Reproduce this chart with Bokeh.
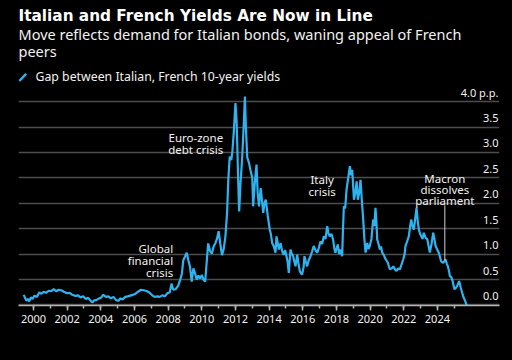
from bokeh.plotting import figure
from bokeh.models import Label, FixedTicker, Range1d, Grid, ColumnDataSource
from bokeh.core.properties import value
from bokeh.embed import file_html
from bokeh.resources import INLINE

# ---------------- data (decimal years, percentage points) ----------------
dates = [1999.42, 1999.50, 1999.58, 1999.67, 1999.75, 1999.85, 1999.95, 2000.05, 2000.2, 2000.35,
         2000.45, 2000.6, 2000.75, 2000.9, 2001.05, 2001.2, 2001.35, 2001.5, 2001.65, 2001.8,
         2002.0, 2002.15, 2002.3, 2002.5, 2002.65, 2002.8, 2002.95, 2003.1, 2003.25, 2003.4,
         2003.5, 2003.6, 2003.75, 2003.9, 2004.0, 2004.15, 2004.3, 2004.45, 2004.6, 2004.75,
         2004.9, 2005.05, 2005.15, 2005.3, 2005.45, 2005.6, 2005.8, 2006.0, 2006.2, 2006.4,
         2006.55, 2006.75, 2006.9, 2007.05, 2007.2, 2007.35, 2007.5, 2007.65, 2007.8, 2007.95,
         2008.1, 2008.2, 2008.3, 2008.45, 2008.6, 2008.72, 2008.82, 2008.9, 2009.0, 2009.1,
         2009.2, 2009.3, 2009.4, 2009.5, 2009.6, 2009.7, 2009.8, 2009.9, 2010.0, 2010.1,
         2010.2, 2010.28, 2010.38, 2010.5, 2010.6, 2010.7, 2010.8, 2010.9, 2011.0, 2011.1,
         2011.2, 2011.3, 2011.4, 2011.5, 2011.58, 2011.66, 2011.75, 2011.82, 2011.9, 2012.0,
         2012.07, 2012.15, 2012.22, 2012.3, 2012.4, 2012.5, 2012.56, 2012.62, 2012.7, 2012.8,
         2012.9, 2013.0, 2013.05, 2013.15, 2013.25, 2013.32, 2013.4, 2013.5, 2013.58, 2013.65,
         2013.72, 2013.8, 2013.92, 2014.04, 2014.1, 2014.18, 2014.28, 2014.38, 2014.44, 2014.52,
         2014.58, 2014.68, 2014.78, 2014.87, 2014.95, 2015.03, 2015.1, 2015.17, 2015.27, 2015.35,
         2015.43, 2015.5, 2015.57, 2015.67, 2015.75, 2015.82, 2015.9, 2015.96, 2016.05, 2016.1,
         2016.18, 2016.26, 2016.35, 2016.46, 2016.55, 2016.65, 2016.75, 2016.86, 2016.95, 2017.05,
         2017.15, 2017.25, 2017.35, 2017.45, 2017.52, 2017.6, 2017.7, 2017.8, 2017.88, 2017.94,
         2018.0, 2018.08, 2018.16, 2018.24, 2018.34, 2018.38, 2018.44, 2018.52, 2018.6, 2018.7,
         2018.8, 2018.87, 2018.94, 2019.0, 2019.04, 2019.12, 2019.2, 2019.27, 2019.35, 2019.43,
         2019.5, 2019.59, 2019.66, 2019.73, 2019.83, 2019.9, 2019.98, 2020.08, 2020.18, 2020.25,
         2020.32, 2020.38, 2020.42, 2020.5, 2020.58, 2020.65, 2020.72, 2020.82, 2020.92, 2021.0,
         2021.06, 2021.12, 2021.18, 2021.28, 2021.38, 2021.48, 2021.57, 2021.67, 2021.77, 2021.87,
         2021.97, 2022.05, 2022.1, 2022.2, 2022.3, 2022.38, 2022.44, 2022.52, 2022.6, 2022.68,
         2022.76, 2022.83, 2022.9, 2022.97, 2023.04, 2023.12, 2023.19, 2023.3, 2023.4, 2023.48,
         2023.55, 2023.65, 2023.75, 2023.82, 2023.89, 2024.0, 2024.08, 2024.15, 2024.22, 2024.34,
         2024.42, 2024.48, 2024.55, 2024.62, 2024.68, 2024.74, 2024.82, 2024.88, 2024.95, 2025.01,
         2025.08, 2025.17, 2025.23, 2025.29, 2025.38, 2025.47, 2025.55, 2025.61, 2025.7, 2025.77]

gap = [0.20, 0.14, 0.08, 0.12, 0.07, 0.15, 0.12, 0.18, 0.16, 0.25,
       0.22, 0.26, 0.24, 0.28, 0.27, 0.31, 0.27, 0.30, 0.29, 0.26,
       0.23, 0.24, 0.20, 0.18, 0.19, 0.15, 0.17, 0.12, 0.14, 0.08,
       0.05, 0.09, 0.10, 0.13, 0.14, 0.20, 0.16, 0.17, 0.13, 0.16,
       0.10, 0.08, 0.13, 0.11, 0.16, 0.17, 0.19, 0.21, 0.26, 0.30,
       0.29, 0.27, 0.24, 0.19, 0.16, 0.17, 0.16, 0.19, 0.17, 0.23,
       0.25, 0.42, 0.30, 0.31, 0.38, 0.50, 0.62, 0.88, 0.95, 1.03,
       0.88, 0.75, 0.46, 0.72, 0.62, 0.50, 0.58, 0.52, 0.59, 0.50,
       0.46, 0.80, 1.21, 1.05, 1.01, 1.15, 1.21, 1.30, 1.45, 1.20,
       0.98, 1.10, 1.34, 1.80, 2.50, 2.92, 2.85, 3.03, 3.40, 3.97,
       3.60, 2.60, 1.84, 2.40, 2.90, 3.60, 4.10, 3.50, 2.90, 2.80,
       2.64, 2.50, 1.94, 2.40, 2.76, 2.20, 1.94, 2.30, 2.05, 1.81,
       2.00, 2.07, 1.75, 1.48, 1.40, 1.22, 1.15, 1.03, 1.35, 1.20,
       1.09, 1.22, 1.05, 0.99, 1.08, 0.96, 0.85, 0.63, 1.09, 1.00,
       0.96, 0.85, 0.76, 0.99, 0.80, 0.67, 0.62, 0.60, 0.75, 0.96,
       0.85, 0.76, 0.88, 0.96, 1.05, 1.16, 1.08, 1.03, 1.12, 1.25,
       1.20, 1.35, 1.30, 1.55, 1.42, 1.35, 1.40, 1.29, 1.10, 1.03,
       1.10, 1.19, 1.00, 1.09, 0.96, 1.40, 1.94, 1.90, 2.27, 2.50,
       2.73, 2.55, 2.66, 2.30, 2.07, 2.20, 2.43, 2.07, 2.20, 2.46,
       2.10, 1.68, 1.30, 1.03, 1.22, 1.10, 1.16, 1.30, 1.68, 1.55,
       1.91, 1.60, 1.29, 1.20, 1.09, 1.15, 1.03, 0.98, 0.90, 0.86,
       0.83, 0.75, 0.70, 0.72, 0.76, 0.70, 0.67, 0.72, 0.70, 0.80,
       0.90, 1.00, 1.16, 1.25, 1.35, 1.55, 1.68, 1.55, 1.48, 1.70,
       1.91, 1.65, 1.48, 1.40, 1.35, 1.30, 1.42, 1.32, 1.29, 1.15,
       1.03, 1.20, 1.42, 1.30, 1.16, 1.08, 1.03, 0.95, 0.86, 0.83,
       0.86, 0.90, 0.82, 0.76, 0.68, 0.57, 0.55, 0.50, 0.40, 0.31,
       0.33, 0.37, 0.42, 0.47, 0.35, 0.24, 0.15, 0.11, 0.03, -0.03]

x_ticks = list(range(2000, 2025, 2))
x_minor_ticks = list(range(2000, 2026))
x_tick_labels = [str(y) for y in x_ticks]
y_ticks = [0.0, 0.5, 1.0, 1.5, 2.0, 2.5, 3.0, 3.5, 4.0]
y_tick_labels = ["0.0", "0.5", "1.0", "1.5", "2.0", "2.5", "3.0", "3.5", "4.0 p.p."]

title_text = "Italian and French Yields Are Now in Line"
subtitle_lines = ["Move reflects demand for Italian bonds, waning appeal of French", "peers"]
legend_text = "Gap between Italian, French 10-year yields"
source_text = "Source: Bloomberg"
brand_text = "Bloomberg"

notes = [
    # (lines, anchor year, align, line centres in page px)
    (["Global", "financial", "crisis"], 2008.3, "right", [247.7, 260.0, 272.2]),
    (["Euro-zone", "debt crisis"], 2011.27, "right", [137.3, 149.2]),
    (["Italy", "crisis"], 2017.15, "center", [179.3, 191.0]),
    (["Macron", "dissolves", "parliament"], 2024.44, "center", [177.7, 189.0, 200.3]),
]
macron_year = 2024.44
macron_line_top = 1.96
macron_line_bottom = 0.87

# ---------------- layout geometry (page pixels) ----------------
W, H = 512, 360
FL, FR, FT, FB = 18, 499, 0, 305
PPX = 16.83
X0 = 2000 - (33 - FL) / PPX
XE = X0 + (FR - FL) / PPX
PPY = 50.85
Y0 = -0.01
YE = Y0 + (FB - FT) / PPY


def xv(px):
    return X0 + (px - FL) / PPX


def yv(py):
    return Y0 + (FB - py) / PPY


BLUE = "#2db3f0"
WHITE = "#f2f2f2"
FONT = "Noto Sans"

p = figure(width=W, height=H, output_backend="svg", toolbar_location=None,
           x_range=Range1d(X0, XE), y_range=Range1d(Y0, YE),
           y_axis_location=None,
           min_border_left=FL, min_border_right=W - FR,
           min_border_top=FT, min_border_bottom=H - FB)
p.background_fill_color = "black"
p.border_fill_color = "black"
p.outline_line_color = None
p.grid.visible = False

grid = Grid(dimension=1, ticker=FixedTicker(ticks=y_ticks),
            grid_line_color="#4d4d4d", grid_line_width=1.5)
p.add_layout(grid)

ax = p.xaxis[0]
ax.ticker = FixedTicker(ticks=x_ticks, minor_ticks=x_minor_ticks)
ax.major_label_overrides = {t: l for t, l in zip(x_ticks, x_tick_labels)}
ax.axis_line_color = "#b5b5b5"
ax.axis_line_width = 1.5
ax.major_tick_line_color = "#b5b5b5"
ax.minor_tick_line_color = "#b5b5b5"
ax.major_tick_line_width = 1.5
ax.minor_tick_line_width = 1.5
ax.major_tick_in = 0
ax.major_tick_out = 5
ax.minor_tick_in = 0
ax.minor_tick_out = 3
ax.major_label_standoff = 4
ax.major_label_text_color = WHITE
ax.major_label_text_font = FONT
ax.major_label_text_font_size = "11px"

src = ColumnDataSource(dict(date=dates, gap=gap))
p.line("date", "gap", source=src, line_color=BLUE, line_width=2.2)

# y tick labels sitting above their gridlines on the right
p.text(x=[XE] * len(y_ticks), y=y_ticks, text=y_tick_labels,
       text_align="right", text_baseline="middle", x_offset=-1, y_offset=-9,
       text_font=value(FONT), text_font_size=value("11px"), text_color=WHITE)

# annotation pointer for Macron
p.segment(x0=[macron_year], y0=[macron_line_top], x1=[macron_year], y1=[macron_line_bottom],
          line_color="#d0d0d0", line_width=1)


def label(text, px, py, size, align="left", font=FONT, style="normal", color=WHITE):
    p.add_layout(Label(x=xv(px), y=yv(py), text=text, text_align=align,
                       text_baseline="middle", text_font=font, text_font_size=size,
                       text_font_style=style, text_color=color))


label(title_text, FL, 15, "15.3px", font="DejaVu Sans", style="bold", color="white")
label(subtitle_lines[0], FL, 33.3, "14.5px")
label(subtitle_lines[1], FL, 50.7, "14.5px")
label(legend_text, 35, 76.2, "12.3px")
label(source_text, FL, 343.7, "11px")
label(brand_text, FR, 343.3, "12px", align="right", font="Liberation Sans", style="bold", color="white")

# legend icon (short slash)
p.segment(x0=[xv(18.8)], y0=[yv(80.5)], x1=[xv(25.6)], y1=[yv(73.3)],
          line_color=BLUE, line_width=2.5)

for lines, yr, align, ys in notes:
    for t, py in zip(lines, ys):
        p.add_layout(Label(x=yr, y=yv(py), text=t, text_align=align, text_baseline="middle",
                           text_font=FONT, text_font_size="11.5px", text_color=WHITE))

html = file_html(p, INLINE)
html = html.replace("<head>", "<head><style>html,body{background:#000;}</style>", 1)
open("out.html", "w").write(html)
